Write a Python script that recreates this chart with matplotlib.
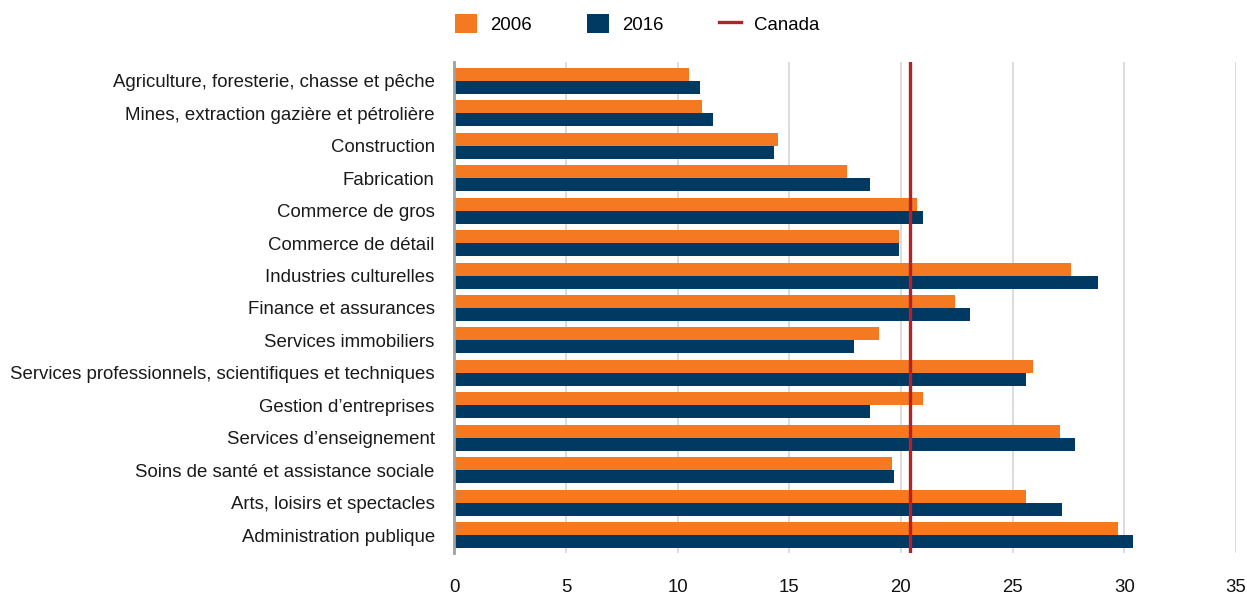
import matplotlib
matplotlib.use("Agg")
import matplotlib.pyplot as plt
import numpy as np
from matplotlib.patches import Patch
from matplotlib.lines import Line2D

plt.rcParams['font.family'] = ['Liberation Sans', 'DejaVu Sans']

categories = [
    "Agriculture, foresterie, chasse et pêche",
    "Mines, extraction gazière et pétrolière",
    "Construction",
    "Fabrication",
    "Commerce de gros",
    "Commerce de détail",
    "Industries culturelles",
    "Finance et assurances",
    "Services immobiliers",
    "Services professionnels, scientifiques et techniques",
    "Gestion d’entreprises",
    "Services d’enseignement",
    "Soins de santé et assistance sociale",
    "Arts, loisirs et spectacles",
    "Administration publique",
]
values_2006 = [10.5, 11.1, 14.5, 17.6, 20.7, 19.9, 27.6, 22.4, 19.0, 25.9, 21.0, 27.1, 19.6, 25.6, 29.7]
values_2016 = [11.0, 11.6, 14.3, 18.6, 21.0, 19.9, 28.8, 23.1, 17.9, 25.6, 18.6, 27.8, 19.7, 27.2, 30.4]
canada_value = 20.4
x_ticks = [0, 5, 10, 15, 20, 25, 30, 35]
series_labels = ["2006", "2016", "Canada"]

ORANGE = "#F47920"
NAVY = "#003A63"
RED = "#B22228"
FS = 13.4

fig = plt.figure(figsize=(12.47, 5.96), dpi=100)
ax = fig.add_axes([0.3643, 0.0721, 0.6269, 0.8239])

y = np.arange(len(categories))
h = 0.4
ax.barh(y - h / 2, values_2006, height=h, color=ORANGE, zorder=2)
ax.barh(y + h / 2, values_2016, height=h, color=NAVY, zorder=2)
ax.axvline(canada_value, color=RED, linewidth=2.4, zorder=3)

ax.set_xlim(0, 35)
ax.set_ylim(len(categories) - 1 + 0.55, -0.58)
ax.set_xticks(x_ticks)
ax.set_xticklabels([str(t) for t in x_ticks], fontsize=FS, color="#111111")
ax.set_yticks(y)
ax.set_yticklabels(categories, fontsize=FS, color="#1a1a1a")
ax.tick_params(axis="x", length=0, pad=18.5)
ax.tick_params(axis="y", length=0, pad=14)

ax.grid(axis="x", color="#D9D9D9", linewidth=1.3, zorder=0)
ax.set_axisbelow(True)
for s in ["top", "right", "bottom"]:
    ax.spines[s].set_visible(False)
ax.spines["left"].set_color("#A0A0A0")
ax.spines["left"].set_linewidth(2)
ax.spines["left"].set_zorder(4)

handles = [
    Patch(facecolor=ORANGE, edgecolor="none"),
    Patch(facecolor=NAVY, edgecolor="none"),
    Line2D([0], [0], color=RED, linewidth=2.4),
]
fig.legend(handles, series_labels, loc="center left", bbox_to_anchor=(0.3649, 0.9600),
           ncol=3, frameon=False, fontsize=FS, handlelength=1.2, handleheight=1.2,
           handletextpad=0.7, columnspacing=2.95, borderpad=0, borderaxespad=0)

fig.savefig("out.png", dpi=100)
